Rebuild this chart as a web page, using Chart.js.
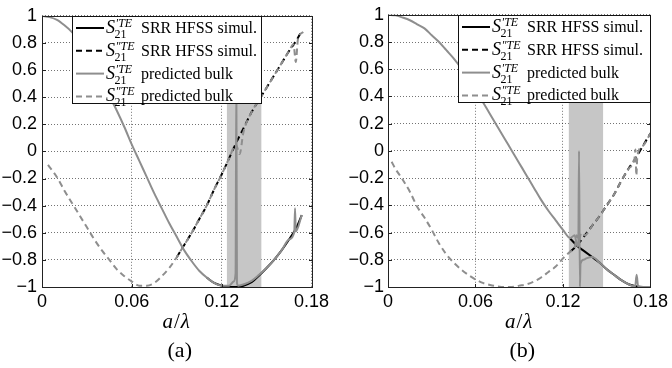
<!DOCTYPE html>
<html>
<head>
<meta charset="utf-8">
<script src="https://cdn.jsdelivr.net/npm/chart.js@4.4.0/dist/chart.umd.min.js"></script>
<style>
  html, body { margin: 0; padding: 0; background: #fff; }
  #wrap { position: relative; width: 672px; height: 368px; overflow: hidden; }
  canvas { position: absolute; top: 0; }
  #chartA { left: 0; }
  #chartB { left: 336px; }
</style>
</head>
<body>
<div id="wrap">
  <canvas id="chartA" width="336" height="368"></canvas>
  <canvas id="chartB" width="336" height="368"></canvas>
</div>
<script>
// ---- axes ----
const xTicks = [0, 0.06, 0.12, 0.18];
const xTickLabels = ['0', '0.06', '0.12', '0.18'];
const yTicks = [-1, -0.8, -0.6, -0.4, -0.2, 0, 0.2, 0.4, 0.6, 0.8, 1];
const yTickLabels = ['\u22121', '\u22120.8', '\u22120.6', '\u22120.4', '\u22120.2', '0', '0.2', '0.4', '0.6', '0.8', '1'];

// ---- legend ----
const legendPrimes = ['\u2032', '\u2033', '\u2032', '\u2033'];
const legendTexts = ['SRR HFSS simul.', 'SRR HFSS simul.', 'predicted bulk', 'predicted bulk'];

// ---- panel (a) ----
const aBand = [0.1235, 0.1465];

const aSimReX = [0.11, 0.115, 0.12, 0.125, 0.13, 0.135, 0.14, 0.145, 0.15, 0.155, 0.16, 0.165, 0.17, 0.1735];
const aSimRe  = [-0.93, -0.97, -0.99, -1.0, -1.0, -0.99, -0.965, -0.915, -0.86, -0.80, -0.73, -0.65, -0.56, -0.47];

const aSimImX = [0.09, 0.095, 0.1, 0.105, 0.11, 0.115, 0.12, 0.125, 0.13, 0.135, 0.14, 0.145, 0.15, 0.155, 0.16, 0.165, 0.17, 0.1735];
const aSimIm  = [-0.78, -0.69, -0.60, -0.50, -0.40, -0.28, -0.17, -0.05, 0.07, 0.18, 0.29, 0.38, 0.47, 0.56, 0.65, 0.74, 0.82, 0.89];

const aBulkReX = [0, 0.005, 0.01, 0.015, 0.02, 0.025, 0.03, 0.035, 0.04, 0.045, 0.05, 0.055, 0.06, 0.065, 0.07, 0.075,
  0.08, 0.085, 0.09, 0.095, 0.1, 0.105, 0.11, 0.115, 0.12, 0.125, 0.128, 0.1293, 0.1298, 0.1302, 0.131,
  0.135, 0.14, 0.145, 0.15, 0.155, 0.16, 0.165, 0.1685, 0.169, 0.1695, 0.1735];
const aBulkRe = [1.0, 0.99, 0.97, 0.93, 0.88, 0.81, 0.73, 0.63, 0.53, 0.41, 0.30, 0.18, 0.05, -0.07, -0.19, -0.31,
  -0.42, -0.53, -0.63, -0.73, -0.81, -0.88, -0.93, -0.97, -0.99, -0.99, -0.96, -0.90, 0.55, -0.97, -0.99,
  -0.98, -0.955, -0.91, -0.86, -0.80, -0.73, -0.65, -0.595, -0.42, -0.59, -0.47];

const aBulkImX = [0.004, 0.01, 0.015, 0.02, 0.025, 0.03, 0.035, 0.04, 0.045, 0.05, 0.055, 0.06, 0.065, 0.07, 0.075,
  0.08, 0.085, 0.09, 0.095, 0.1, 0.105, 0.11, 0.115, 0.12, 0.125, 0.1295, 0.132, 0.1345,
  0.14, 0.145, 0.15, 0.155, 0.16, 0.165, 0.168, 0.1695, 0.171, 0.1745];
const aBulkIm = [-0.10, -0.19, -0.29, -0.38, -0.47, -0.56, -0.65, -0.73, -0.80, -0.87, -0.92, -0.96, -0.99, -0.99, -0.97,
  -0.92, -0.86, -0.78, -0.69, -0.60, -0.50, -0.40, -0.28, -0.17, -0.05, 0.05, -0.02, 0.14,
  0.29, 0.38, 0.47, 0.56, 0.65, 0.74, 0.79, 0.66, 0.83, 0.88];

// ---- panel (b) ----
const bBand = [0.124, 0.1475];

const bSimReX = [0.125, 0.13, 0.135, 0.14, 0.145, 0.15, 0.155, 0.16, 0.165, 0.17, 0.175, 0.18];
const bSimRe  = [-0.645, -0.70, -0.74, -0.78, -0.82, -0.87, -0.91, -0.95, -0.98, -0.995, -1.0, -1.0];

const bSimImX = [0.125, 0.13, 0.135, 0.14, 0.145, 0.15, 0.155, 0.16, 0.165, 0.17, 0.175, 0.18];
const bSimIm  = [-0.74, -0.69, -0.62, -0.55, -0.48, -0.40, -0.32, -0.22, -0.13, -0.05, 0.04, 0.13];

const bBulkReX = [0, 0.005, 0.01, 0.015, 0.02, 0.025, 0.03, 0.035, 0.04, 0.045, 0.05, 0.055, 0.06, 0.065, 0.07, 0.075,
  0.08, 0.085, 0.09, 0.095, 0.1, 0.105, 0.11, 0.115, 0.12, 0.125, 0.128, 0.1295, 0.1305, 0.131, 0.1316, 0.132,
  0.134, 0.136, 0.14, 0.145, 0.15, 0.155, 0.16, 0.165, 0.1695, 0.1705, 0.1715, 0.175, 0.18];
const bBulkRe = [1.0, 0.996, 0.98, 0.96, 0.93, 0.90, 0.85, 0.80, 0.74, 0.68, 0.61, 0.53, 0.45, 0.36, 0.27, 0.18,
  0.09, 0.0, -0.09, -0.18, -0.27, -0.36, -0.44, -0.51, -0.58, -0.64, -0.62, -0.69, -0.70, 0.0, -1.0, -0.83,
  -0.80, -0.79, -0.78, -0.82, -0.87, -0.91, -0.95, -0.98, -0.995, -0.91, -0.995, -1.0, -1.0];

const bBulkImX = [0.0025, 0.005, 0.01, 0.015, 0.02, 0.025, 0.03, 0.035, 0.04, 0.045, 0.05, 0.055, 0.06, 0.065, 0.07,
  0.075, 0.08, 0.085, 0.09, 0.095, 0.1, 0.105, 0.11, 0.115, 0.12, 0.125, 0.128, 0.1295, 0.131, 0.1325, 0.135,
  0.14, 0.145, 0.15, 0.155, 0.16, 0.165, 0.169, 0.1697, 0.1703, 0.171, 0.175, 0.18];
const bBulkIm = [-0.08, -0.13, -0.21, -0.30, -0.41, -0.49, -0.58, -0.68, -0.76, -0.82, -0.87, -0.91, -0.945, -0.97, -0.985,
  -0.995, -1.0, -1.0, -0.99, -0.98, -0.96, -0.93, -0.89, -0.85, -0.79, -0.74, -0.71, -0.62, -0.66, -0.60, -0.62,
  -0.55, -0.48, -0.40, -0.32, -0.22, -0.13, -0.06, 0.01, -0.18, -0.04, 0.04, 0.13];

// ---- styles (legend order) ----
const GRAY = '#8e8e8e';
const seriesStyles = [
  { color: '#000', dash: [], width: 2, order: 2 },
  { color: '#000', dash: [6, 4], width: 2, order: 2 },
  { color: GRAY, dash: [], width: 2, order: 1 },
  { color: GRAY, dash: [6, 4], width: 2, order: 1 }
];

const SERIF = '"Liberation Serif", "Times New Roman", serif';
const SANS = '"Liberation Sans", Arial, sans-serif';

Chart.defaults.color = '#000';

function toPoints(xs, ys) {
  return xs.map(function(x, i) { return { x: x, y: ys[i] }; });
}

// S'21^TE style label
function drawMathLabel(ctx, x, y, prime) {
  ctx.font = 'italic 18px ' + SERIF;
  ctx.fillText('S', x, y);
  const w = ctx.measureText('S').width;
  ctx.font = 'italic 12px ' + SERIF;
  ctx.fillText(prime + 'TE', x + w + 0.5, y - 6);
  ctx.font = '12px ' + SERIF;
  ctx.fillText('21', x + w - 0.5, y + 5);
}

// 1px frame made of filled strips (no stroke state involved)
function frame(ctx, x, y, w, h, color) {
  ctx.fillStyle = color;
  ctx.fillRect(x, y, w, 1);
  ctx.fillRect(x, y + h - 1, w, 1);
  ctx.fillRect(x, y, 1, h);
  ctx.fillRect(x + w - 1, y, 1, h);
}

const panelDecor = {
  id: 'panelDecor',
  beforeDatasetsDraw: function(chart, args, opts) {
    const ctx = chart.ctx, a = chart.chartArea, xs = chart.scales.x;
    const x1 = xs.getPixelForValue(opts.band[0]);
    const x2 = xs.getPixelForValue(opts.band[1]);
    ctx.save();
    ctx.fillStyle = '#c6c6c6';
    ctx.fillRect(x1, a.top, x2 - x1, a.bottom - a.top);
    ctx.restore();
  },
  afterDatasetsDraw: function(chart) {
    const ctx = chart.ctx, a = chart.chartArea;
    const xs = chart.scales.x, ys = chart.scales.y;
    ctx.save();
    const l = Math.round(a.left), t = Math.round(a.top);
    const r = Math.round(a.right), b = Math.round(a.bottom);
    frame(ctx, l, t, r - l + 1, b - t + 1, '#222');
    // inward ticks, all four sides
    ctx.fillStyle = '#222';
    xTicks.forEach(function(v) {
      const px = Math.round(xs.getPixelForValue(v));
      ctx.fillRect(px, b - 3, 1, 3);
      ctx.fillRect(px, t, 1, 4);
    });
    yTicks.forEach(function(v) {
      const py = Math.round(ys.getPixelForValue(v));
      ctx.fillRect(l, py, 4, 1);
      ctx.fillRect(r - 3, py, 4, 1);
    });
    ctx.restore();
  },
  afterDraw: function(chart, args, opts) {
    const ctx = chart.ctx, a = chart.chartArea;
    ctx.save();
    ctx.setLineDash([]);

    // legend box
    const bw = opts.legendWidth, bh = 88;
    const bx = Math.round(opts.legendAlign === 'left' ? a.left + opts.legendOffset : a.right - opts.legendOffset - bw);
    const by = Math.round(a.top);
    ctx.fillStyle = '#fff';
    ctx.fillRect(bx, by, bw, bh);
    frame(ctx, bx, by, bw, bh, '#111');

    chart.data.datasets.forEach(function(ds, i) {
      const cy = by + 12 + i * 22.8;
      ctx.beginPath();
      ctx.strokeStyle = ds.borderColor;
      ctx.lineWidth = ds.borderWidth;
      ctx.setLineDash(ds.borderDash);
      ctx.moveTo(bx + 4, cy);
      ctx.lineTo(bx + 32, cy);
      ctx.stroke();
      ctx.setLineDash([]);
      ctx.fillStyle = '#000';
      ctx.textBaseline = 'alphabetic';
      ctx.textAlign = 'left';
      drawMathLabel(ctx, bx + 34, cy + 5, legendPrimes[i]);
      ctx.font = '16px ' + SERIF;
      ctx.fillText(legendTexts[i], bx + 69, cy + 5);
    });

    // axis title a/λ
    const cx = (a.left + a.right) / 2;
    ctx.fillStyle = '#000';
    ctx.textBaseline = 'alphabetic';
    ctx.textAlign = 'left';
    const parts = [['a', 'italic '], ['/', ''], ['\u03bb', 'italic ']];
    let total = 0;
    parts.forEach(function(p) { ctx.font = p[1] + '21px ' + SERIF; total += ctx.measureText(p[0]).width + 1; });
    let tx = cx - total / 2;
    parts.forEach(function(p) {
      ctx.font = p[1] + '21px ' + SERIF;
      ctx.fillText(p[0], tx, 328);
      tx += ctx.measureText(p[0]).width + 1;
    });

    // panel letter
    ctx.textAlign = 'center';
    ctx.font = '22px ' + SERIF;
    ctx.fillText(opts.letter, cx + 3, 357);
    ctx.restore();
  }
};

function makePanel(cfg) {
  const series = [
    toPoints(cfg.simReX, cfg.simRe),
    toPoints(cfg.simImX, cfg.simIm),
    toPoints(cfg.bulkReX, cfg.bulkRe),
    toPoints(cfg.bulkImX, cfg.bulkIm)
  ];
  const datasets = series.map(function(pts, i) {
    const st = seriesStyles[i];
    return {
      label: legendPrimes[i] + ' ' + legendTexts[i],
      data: pts,
      borderColor: st.color,
      borderWidth: st.width,
      borderDash: st.dash,
      borderJoinStyle: 'round',
      cubicInterpolationMode: 'monotone',
      pointRadius: 0,
      fill: false,
      order: st.order
    };
  });

  return new Chart(document.getElementById(cfg.id), {
    type: 'line',
    data: { datasets: datasets },
    plugins: [panelDecor],
    options: {
      responsive: false,
      animation: false,
      devicePixelRatio: 1,
      layout: { padding: { top: 12, right: cfg.padRight, bottom: 0, left: 0 } },
      plugins: {
        legend: { display: false },
        tooltip: { enabled: false },
        panelDecor: {
          band: cfg.band,
          letter: cfg.letter,
          legendAlign: cfg.legendAlign,
          legendOffset: cfg.legendOffset,
          legendWidth: cfg.legendWidth
        }
      },
      scales: {
        x: {
          type: 'linear',
          min: 0,
          max: 0.18,
          afterBuildTicks: function(scale) {
            scale.ticks = xTicks.map(function(v) { return { value: v }; });
          },
          afterFit: function(scale) { scale.height = 81; },
          ticks: {
            autoSkip: false,
            maxRotation: 0,
            padding: 4,
            font: { family: SANS, size: 18 },
            callback: function(v, i) { return xTickLabels[i]; }
          },
          grid: { color: 'rgba(0,0,0,0.55)', lineWidth: 1, drawTicks: false },
          border: { display: false, dash: [1, 2] }
        },
        y: {
          type: 'linear',
          min: -1,
          max: 1,
          afterBuildTicks: function(scale) {
            scale.ticks = yTicks.map(function(v) { return { value: v }; });
          },
          afterFit: function(scale) { scale.width = cfg.yAxisWidth; },
          ticks: {
            autoSkip: false,
            padding: cfg.yPad,
            font: { family: SANS, size: 18 },
            callback: function(v, i) { return yTickLabels[i]; }
          },
          grid: { color: 'rgba(0,0,0,0.55)', lineWidth: 1, drawTicks: false },
          border: { display: false, dash: [1, 2] }
        }
      }
    }
  });
}

makePanel({
  id: 'chartA', letter: '(a)', band: aBand,
  simReX: aSimReX, simRe: aSimRe, simImX: aSimImX, simIm: aSimIm,
  bulkReX: aBulkReX, bulkRe: aBulkRe, bulkImX: aBulkImX, bulkIm: aBulkIm,
  yAxisWidth: 42, yPad: 5, padRight: 24.5,
  legendAlign: 'left', legendOffset: 30, legendWidth: 190
});

makePanel({
  id: 'chartB', letter: '(b)', band: bBand,
  simReX: bSimReX, simRe: bSimRe, simImX: bSimImX, simIm: bSimIm,
  bulkReX: bBulkReX, bulkRe: bBulkRe, bulkImX: bBulkImX, bulkIm: bBulkIm,
  yAxisWidth: 52, yPad: 4, padRight: 18,
  legendAlign: 'right', legendOffset: -1, legendWidth: 193
});
</script>
</body>
</html>
